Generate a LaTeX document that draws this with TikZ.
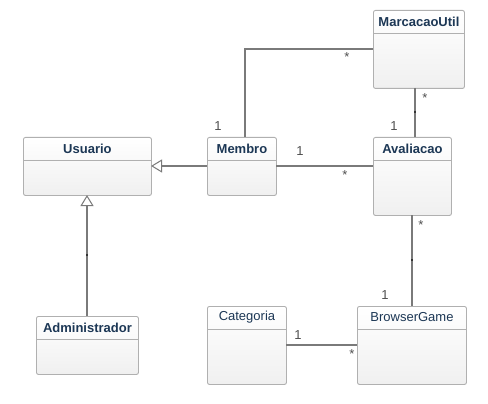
\documentclass[tikz,border=0pt]{standalone}
\usepackage{fontspec}
\setmainfont{Liberation Sans}
\usetikzlibrary{arrows.meta}
\definecolor{ttlc}{RGB}{28,55,85}
\definecolor{edgec}{RGB}{176,176,176}
\definecolor{linec}{RGB}{122,122,122}
\definecolor{multc}{RGB}{80,80,80}
\tikzset{
  cls/.style={draw=edgec, line width=0.9pt, rounded corners=2pt, top color=white, bottom color=black!6, anchor=north west, inner sep=0pt},
  sep/.style={draw=edgec, line width=0.9pt},
  ttl/.style={text=ttlc, font=\fontsize{13}{15}\selectfont\bfseries, inner sep=0pt},
  ttlr/.style={text=ttlc, font=\fontsize{13}{15}\selectfont, inner sep=0pt},
  assoc/.style={draw=linec, line width=2pt},
  gen/.style={draw=linec, line width=2pt, -{Triangle[open, length=11pt, width=13pt, line width=1pt, fill=white]}},
  mult/.style={text=multc, font=\fontsize{13}{15}\selectfont, inner sep=0pt},
  tick/.style={draw=black!80, line width=2pt},
}
\begin{document}
\begin{tikzpicture}[x=1pt,y=-1pt]
\useasboundingbox[fill=white] (0,0) rectangle (488,404);
% classes
\node[cls, minimum width=91pt, minimum height=78pt] (mu) at (373,10) {};
\node[cls, minimum width=128pt, minimum height=58pt] (us) at (23,137) {};
\node[cls, minimum width=69pt, minimum height=58pt] (me) at (207,137) {};
\node[cls, minimum width=78pt, minimum height=78pt] (av) at (373,137) {};
\node[cls, minimum width=102pt, minimum height=58pt] (ad) at (36,316) {};
\node[cls, minimum width=79pt, minimum height=78pt] (ca) at (207,306) {};
\node[cls, minimum width=109pt, minimum height=78pt] (bg) at (357,306) {};
% header separators
\foreach \n in {mu,us,me,av,ad,ca,bg}{
  \draw[sep] ([yshift=-23.5pt]\n.north west) -- ([yshift=-23.5pt]\n.north east);
}
% titles
\node[ttl] (tmu) at ([yshift=-11.5pt]mu.north) {MarcacaoUtil};
\node[ttl] (tus) at ([yshift=-11.5pt]us.north) {Usuario};
\node[ttl] (tme) at ([yshift=-11.5pt]me.north) {Membro};
\node[ttl] (tav) at ([yshift=-11.5pt]av.north) {Avaliacao};
\node[ttl] (tad) at ([yshift=-11.5pt]ad.north) {Administrador};
\node[ttlr] (tca) at ([yshift=-11.5pt]ca.north) {Categoria};
\node[ttlr] (tbg) at ([yshift=-11.5pt]bg.north) {BrowserGame};
% anchor coordinates
\coordinate (meTop) at (245,137);
\coordinate (bend) at (245,49);
\coordinate (muL) at (373,49);
\coordinate (muB) at (415,88);
\coordinate (avT) at (415,137);
\coordinate (meR) at (276,166);
\coordinate (avL) at (373,166);
\coordinate (meL) at (207,166);
\coordinate (usR) at (151,166);
\coordinate (adT) at (87,316);
\coordinate (usB) at (87,195);
\coordinate (avB) at (412,215);
\coordinate (bgT) at (412,306);
\coordinate (caR) at (286,345);
\coordinate (bgL) at (357,345);
% connectors
\draw[assoc] (meTop) -- (bend) -- (muL);
\draw[assoc] (muB) -- (avT);
\draw[assoc] (meR) -- (avL);
\draw[assoc] (avB) -- (bgT);
\draw[assoc] (caR) -- (bgL);
\draw[gen] (meL) -- (usR);
\draw[gen] (adT) -- (usB);
% small ticks at midpoints
\draw[tick] (415,111) -- (415,113);
\draw[tick] (87,254) -- (87,256);
\draw[tick] (412,259) -- (412,261);
% multiplicities
\node[mult] (m1) at (218,126) {1};
\node[mult] (m2) at (347,57) {*};
\node[mult] (m3) at (425,98) {*};
\node[mult] (m4) at (394,126) {1};
\node[mult] (m5) at (300,151) {1};
\node[mult] (m6) at (345,175) {*};
\node[mult] (m7) at (421,225) {*};
\node[mult] (m8) at (385,295) {1};
\node[mult] (m9) at (298,335) {1};
\node[mult] (m10) at (352,354) {*};
\end{tikzpicture}
\end{document}
